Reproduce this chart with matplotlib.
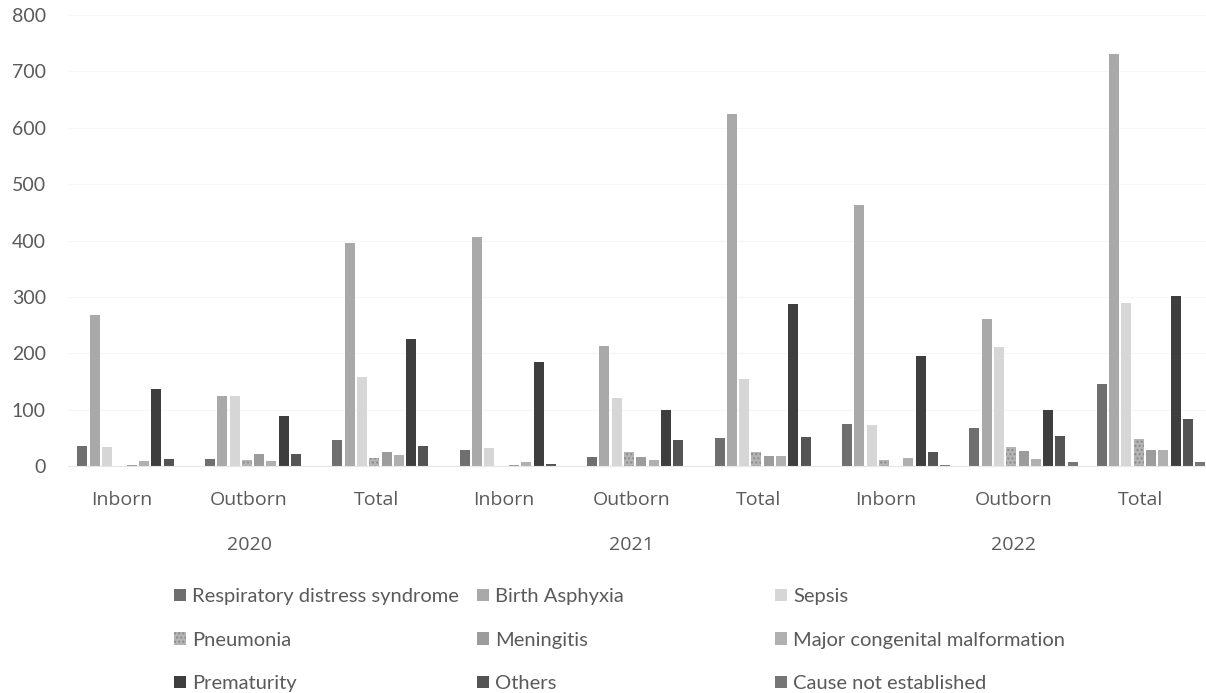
import matplotlib
matplotlib.use("Agg")
import matplotlib.pyplot as plt
import matplotlib.transforms as mtransforms
import numpy as np

# Neonatal deaths by cause, grouped by year and place of birth
years = ["2020", "2021", "2022"]
groups = ["Inborn", "Outborn", "Total"] * 3
causes = [
    "Respiratory distress syndrome", "Birth Asphyxia", "Sepsis",
    "Pneumonia", "Meningitis", "Major congenital malformation",
    "Prematurity", "Others", "Cause not established",
]

# one list per cause, 9 values: 2020 In/Out/Tot, 2021 In/Out/Tot, 2022 In/Out/Tot
rds = [35, 12, 47, 28, 16, 49, 74, 68, 145]
asphyxia = [268, 124, 396, 406, 213, 624, 463, 261, 731]
sepsis = [33, 124, 158, 32, 121, 155, 72, 211, 290]
pneumonia = [0, 10, 15, 0, 25, 25, 10, 34, 48]
meningitis = [2, 22, 25, 1, 16, 18, 0, 27, 28]
malformation = [8, 8, 19, 7, 11, 18, 14, 12, 28]
prematurity = [136, 88, 225, 184, 100, 288, 196, 100, 301]
others = [12, 22, 35, 4, 46, 52, 25, 54, 83]
not_established = [0, 0, 0, 0, 0, 0, 1, 7, 7]

series = [rds, asphyxia, sepsis, pneumonia, meningitis, malformation,
          prematurity, others, not_established]
colors = ["#6f6f6f", "#a9a9a9", "#d6d6d6", "#b4b4b4", "#9c9c9c",
          "#b0b0b0", "#3e3e3e", "#545454", "#767676"]
hatches = [None, None, None, "....", None, None, None, None, None]

plt.rcParams["font.family"] = ["Lato", "DejaVu Sans"]

fig = plt.figure(figsize=(12.06, 6.93), dpi=100)
ax = fig.add_axes([68 / 1206, 1 - 466 / 693, 9 * 127.4 / 1206, 451 / 693])

x = np.arange(len(groups))
step = 12.3 / 127.4
width = 10 / 127.4
bars = []
for i, (vals, col, h) in enumerate(zip(series, colors, hatches)):
    b = ax.bar(x + (i - 4) * step, vals, width, color=col, label=causes[i],
               hatch=h, edgecolor="#8a8a8a" if h else col, linewidth=0)
    bars.append(b)

ax.set_xlim(-0.5, len(groups) - 0.5)
ax.set_ylim(0, 800)
ax.set_yticks(range(0, 801, 100))
ax.grid(axis="y", color="#f6f6f6", linewidth=0.8)
ax.set_axisbelow(True)
for s in ["top", "right", "left"]:
    ax.spines[s].set_visible(False)
ax.spines["bottom"].set_color("#e6e6e6")

ax.tick_params(axis="y", length=0, pad=16, labelsize=14, labelcolor="#5a5a5a")
ax.set_xticks(x)
ax.set_xticklabels(groups, fontfamily=["Open Sans", "DejaVu Sans"])
ax.tick_params(axis="x", length=0, pad=18, labelsize=14, labelcolor="#5a5a5a")

# shift the category labels a touch to the left
shift = mtransforms.ScaledTranslation(-10 / 100, 0, fig.dpi_scale_trans)
for lbl in ax.get_xticklabels():
    lbl.set_transform(lbl.get_transform() + shift)

# year labels under the middle group of each year
trans = mtransforms.blended_transform_factory(ax.transData, fig.transFigure)
for k, yr in enumerate(years):
    ax.text(3 * k + 1, 1 - 545 / 693, yr, transform=trans + shift,
            ha="center", va="center", fontsize=14, color="#5a5a5a",
            fontfamily=["Open Sans", "DejaVu Sans"])

# legend laid out in three fixed columns, filled row by row
col_x = [174, 477, 775]
for c in range(3):
    handles = [bars[r * 3 + c] for r in range(3)]
    fig.legend(handles=handles, labels=[causes[r * 3 + c] for r in range(3)],
               loc="upper left", bbox_to_anchor=(col_x[c] / 1206, 1 - 588 / 693),
               frameon=False, fontsize=14.5, labelcolor="#5a5a5a",
               handlelength=0.6, handleheight=0.6, handletextpad=0.3,
               labelspacing=1.32, borderpad=0, borderaxespad=0)

fig.savefig("out.png", dpi=100)
